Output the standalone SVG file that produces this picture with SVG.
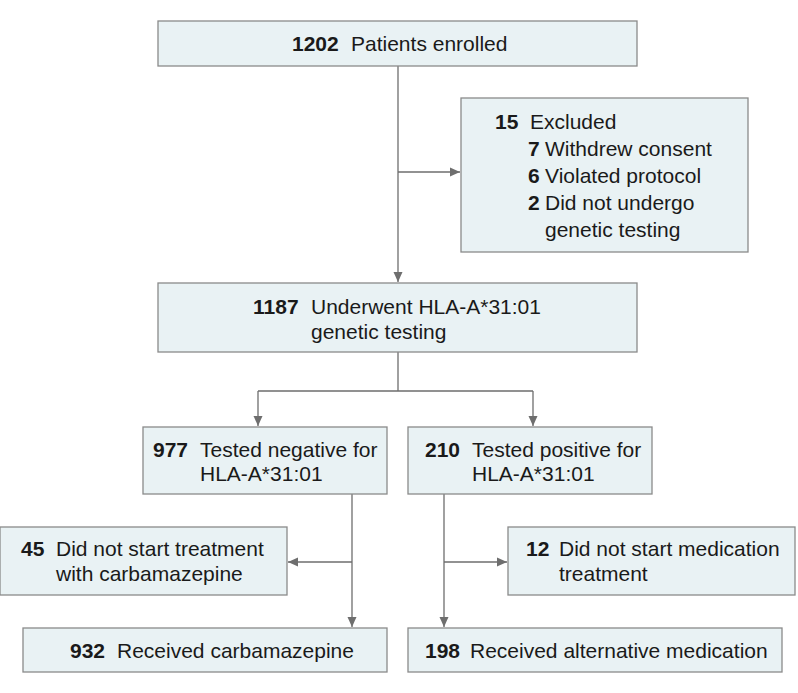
<svg xmlns="http://www.w3.org/2000/svg" width="798" height="693" viewBox="0 0 798 693">
<defs>
<style>
.box{fill:#e9f2f4;stroke:#8a8a8a;stroke-width:1.3}
.ln{fill:none;stroke:#6e6e6e;stroke-width:1.3}
text{font-family:"Liberation Sans",Arial,sans-serif;font-size:21px;fill:#1a1a1a}
.b{font-weight:bold}
</style>
<marker id="ah" viewBox="0 0 10 10" refX="10" refY="5" markerWidth="10" markerHeight="10" markerUnits="userSpaceOnUse" orient="auto">
<path d="M0,0.5 L10,5 L0,9.5 Z" fill="#6e6e6e"/>
</marker>
</defs>
<rect width="798" height="693" fill="#fff"/>
<g id="connectors">
<path class="ln" d="M398,66 V282" marker-end="url(#ah)"/>
<path class="ln" d="M398,172 H460" marker-end="url(#ah)"/>
<path class="ln" d="M398,352 V391 M258,391 H533"/>
<path class="ln" d="M258,391 V426" marker-end="url(#ah)"/>
<path class="ln" d="M533,391 V426" marker-end="url(#ah)"/>
<path class="ln" d="M352,494 V627" marker-end="url(#ah)"/>
<path class="ln" d="M352,562 H288" marker-end="url(#ah)"/>
<path class="ln" d="M444,494 V627" marker-end="url(#ah)"/>
<path class="ln" d="M444,562 H507" marker-end="url(#ah)"/>
</g>
<g id="n1202">
<rect class="box" x="158" y="21" width="479" height="45"/>
<text x="292" y="51"><tspan class="b">1202</tspan><tspan x="351">Patients enrolled</tspan></text>
</g>
<g id="excluded">
<rect class="box" x="461" y="98" width="287" height="154"/>
<text x="495" y="129"><tspan class="b">15</tspan><tspan x="530">Excluded</tspan></text>
<text x="528" y="156"><tspan class="b">7</tspan><tspan x="545">Withdrew consent</tspan></text>
<text x="528" y="183"><tspan class="b">6</tspan><tspan x="545">Violated protocol</tspan></text>
<text x="528" y="210"><tspan class="b">2</tspan><tspan x="545">Did not undergo</tspan></text>
<text x="545" y="237">genetic testing</text>
</g>
<g id="n1187">
<rect class="box" x="158" y="283" width="479" height="69"/>
<text x="253" y="314"><tspan class="b">1187</tspan><tspan x="311">Underwent HLA-A*31:01</tspan></text>
<text x="311" y="339">genetic testing</text>
</g>
<g id="n977">
<rect class="box" x="143" y="427" width="244" height="67"/>
<text x="153" y="457"><tspan class="b">977</tspan><tspan x="200">Tested negative for</tspan></text>
<text x="200" y="481">HLA-A*31:01</text>
</g>
<g id="n210">
<rect class="box" x="408" y="427" width="244" height="67"/>
<text x="425" y="457"><tspan class="b">210</tspan><tspan x="472">Tested positive for</tspan></text>
<text x="472" y="481">HLA-A*31:01</text>
</g>
<g id="n45">
<rect class="box" x="0" y="527" width="287" height="68"/>
<text x="21" y="556"><tspan class="b">45</tspan><tspan x="56">Did not start treatment</tspan></text>
<text x="56" y="581">with carbamazepine</text>
</g>
<g id="n12">
<rect class="box" x="508" y="527" width="287" height="68"/>
<text x="526" y="556"><tspan class="b">12</tspan><tspan x="559">Did not start medication</tspan></text>
<text x="559" y="581">treatment</text>
</g>
<g id="n932">
<rect class="box" x="23" y="628" width="364" height="44"/>
<text x="70" y="658"><tspan class="b">932</tspan><tspan x="117">Received carbamazepine</tspan></text>
</g>
<g id="n198">
<rect class="box" x="408" y="628" width="374" height="44"/>
<text x="425" y="658"><tspan class="b">198</tspan><tspan x="470">Received alternative medication</tspan></text>
</g>
</svg>
